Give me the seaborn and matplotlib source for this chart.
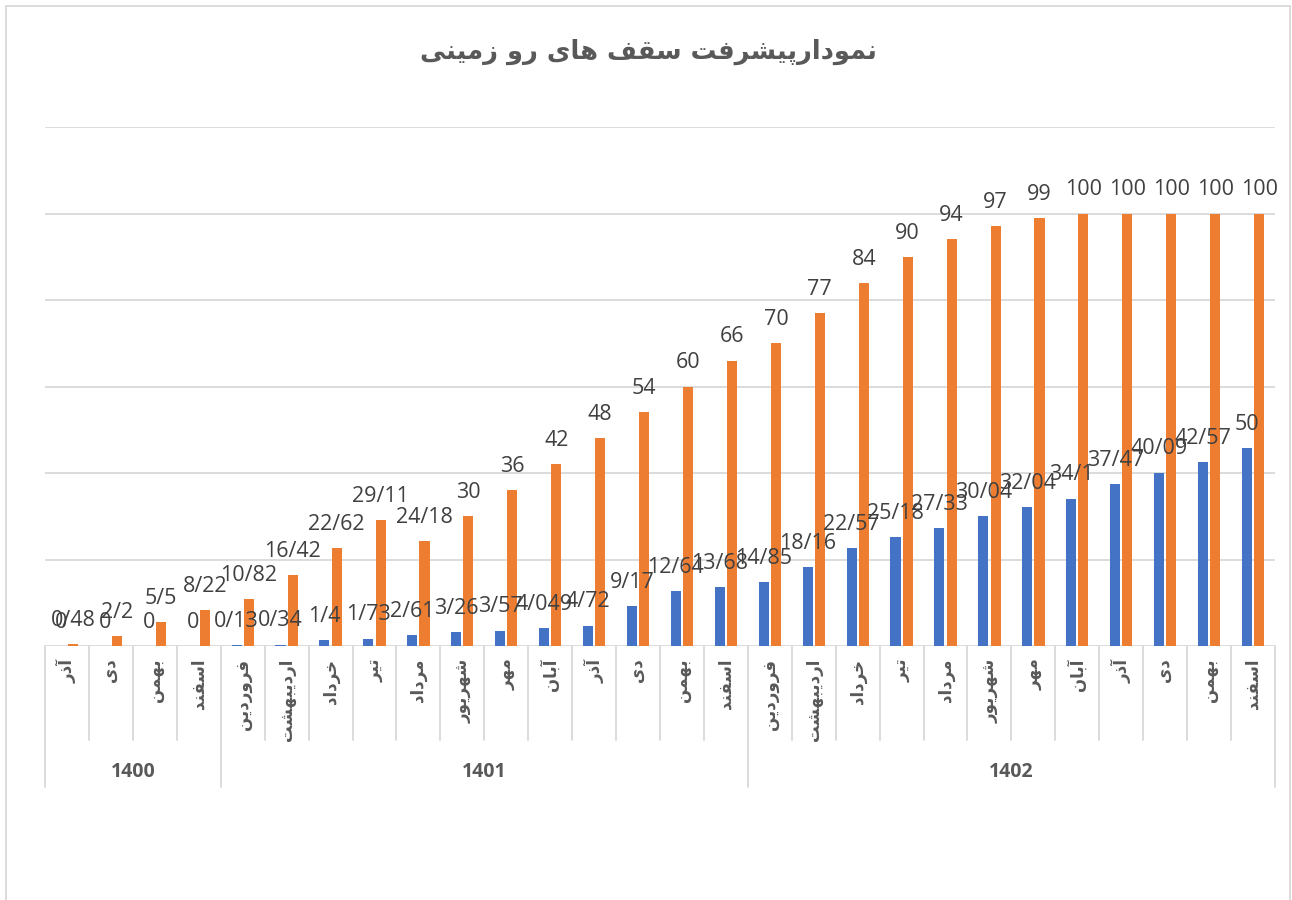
import numpy as np
import pandas as pd
import matplotlib
matplotlib.use("Agg")
import matplotlib.pyplot as plt
import matplotlib.transforms as mtransforms
from matplotlib.patches import Rectangle
import seaborn as sns

# --- data -------------------------------------------------------------
title = "نمودارپیشرفت سقف های رو زمینی"

months_1400 = ["آذر", "دی", "بهمن", "اسفند"]
months_year = ["فروردین", "اردیبهشت", "خرداد", "تیر", "مرداد", "شهریور",
               "مهر", "آبان", "آذر", "دی", "بهمن", "اسفند"]
months = months_1400 + months_year + months_year

years = ["1400", "1401", "1402"]
year_sizes = [4, 12, 12]

# orange series (plan) and blue series (actual), in percent
planned = [0.48, 2.2, 5.5, 8.22, 10.82, 16.42, 22.62, 29.11, 24.18, 30, 36, 42,
           48, 54, 60, 66, 70, 77, 84, 90, 94, 97, 99, 100, 100, 100, 100, 100]
actual = [0, 0, 0, 0, 0.13, 0.34, 1.4, 1.73, 2.61, 3.26, 3.57, 4.049,
          4.72, 9.17, 12.64, 13.68, 14.85, 18.16, 22.57, 25.18, 27.33, 30.04,
          32.04, 34.1, 37.47, 40.09, 42.57, 45.85]
# the last blue label in the source reads 50 although the bar is lower
actual_last_label = "50"

BLUE = "#4472C4"
ORANGE = "#ED7D31"
GRID = "#D9D9D9"

# --- minimal Persian shaping (matplotlib has no bidi / joining) -------
FORMS = {
    "آ": (0xFE81, 0xFE82, None, None),
    "ا": (0xFE8D, 0xFE8E, None, None),
    "ب": (0xFE8F, 0xFE90, 0xFE91, 0xFE92),
    "پ": (0xFB56, 0xFB57, 0xFB58, 0xFB59),
    "ت": (0xFE95, 0xFE96, 0xFE97, 0xFE98),
    "خ": (0xFEA5, 0xFEA6, 0xFEA7, 0xFEA8),
    "د": (0xFEA9, 0xFEAA, None, None),
    "ذ": (0xFEAB, 0xFEAC, None, None),
    "ر": (0xFEAD, 0xFEAE, None, None),
    "ز": (0xFEAF, 0xFEB0, None, None),
    "س": (0xFEB1, 0xFEB2, 0xFEB3, 0xFEB4),
    "ش": (0xFEB5, 0xFEB6, 0xFEB7, 0xFEB8),
    "ف": (0xFED1, 0xFED2, 0xFED3, 0xFED4),
    "ق": (0xFED5, 0xFED6, 0xFED7, 0xFED8),
    "م": (0xFEE1, 0xFEE2, 0xFEE3, 0xFEE4),
    "ن": (0xFEE5, 0xFEE6, 0xFEE7, 0xFEE8),
    "ه": (0xFEE9, 0xFEEA, 0xFEEB, 0xFEEC),
    "و": (0xFEED, 0xFEEE, None, None),
    "ی": (0xFBFC, 0xFBFD, 0xFBFE, 0xFBFF),
}


def shape(text):
    out = []
    for i, ch in enumerate(text):
        forms = FORMS.get(ch)
        if forms is None:
            out.append(ch)
            continue
        prev = text[i - 1] if i > 0 else ""
        nxt = text[i + 1] if i + 1 < len(text) else ""
        join_prev = prev in FORMS and FORMS[prev][2] is not None
        join_next = forms[2] is not None and nxt in FORMS
        if join_prev and join_next:
            code = forms[3]
        elif join_prev:
            code = forms[1]
        elif join_next:
            code = forms[2]
        else:
            code = forms[0]
        out.append(chr(code))
    return "".join(reversed(out))


def fmt(v):
    return f"{v:g}".replace(".", "/")


# --- frame ------------------------------------------------------------
n = len(months)
df = pd.DataFrame({
    "idx": list(range(n)) * 2,
    "value": actual + planned,
    "series": ["actual"] * n + ["planned"] * n,
})

sns.set_style("white")
plt.rcParams["font.family"] = ["Open Sans", "DejaVu Sans"]

W, H = 1292, 900
fig = plt.figure(figsize=(W / 100, H / 100), dpi=100)
ax = fig.add_axes([45 / W, 1 - 646 / H, (1275 - 45) / W, (646 - 127) / H])

sns.barplot(data=df, x="idx", y="value", hue="series",
            hue_order=["actual", "planned"], palette=[BLUE, ORANGE],
            saturation=1, width=0.556, gap=0.18, linewidth=0,
            legend=False, ax=ax)

ax.set_ylim(0, 120)
ax.set_xlim(-0.5, n - 0.5)
ax.set_yticks(np.arange(0, 121, 20))
ax.set_yticklabels([])
ax.tick_params(axis="y", length=0)
ax.grid(axis="y", color=GRID, linewidth=1.3)
ax.set_axisbelow(True)
for s in ax.spines.values():
    s.set_visible(False)
ax.set_xlabel("")
ax.set_ylabel("")

# data labels
blue_labels = [fmt(v) for v in actual]
blue_labels[-1] = actual_last_label
orange_labels = [fmt(v) for v in planned]
for cont, labels in zip(ax.containers, [blue_labels, orange_labels]):
    ax.bar_label(cont, labels=labels, padding=9.5, fontsize=15.5,
                 color="#404040")

# month tick labels (rotated)
ax.set_xticks(range(n))
ax.set_xticklabels([shape(m) for m in months], rotation=90,
                   fontsize=12, fontweight="bold", color="#595959",
                   family="DejaVu Sans")
ax.tick_params(axis="x", length=0, pad=9)

# multi-level category separators and year labels
trans = mtransforms.blended_transform_factory(ax.transData, ax.transAxes)
month_bottom = -(740 - 646) / (646 - 127)
year_bottom = -(787 - 646) / (646 - 127)
bounds = np.cumsum([0] + year_sizes)
for i in range(n + 1):
    y1 = year_bottom if i in bounds else month_bottom
    ax.plot([i - 0.5, i - 0.5], [0, y1], color=GRID, lw=1.3,
            transform=trans, clip_on=False)
for yr, b0, b1 in zip(years, bounds[:-1], bounds[1:]):
    ax.text((b0 + b1 - 1) / 2, -(772 - 646) / (646 - 127), yr,
            transform=trans, ha="center", va="center", fontsize=14,
            fontweight="bold", color="#595959")

fig.text(648 / W, 1 - 52 / H, shape(title), ha="center", va="center",
         fontsize=18.5, fontweight="bold", color="#595959",
         family="DejaVu Sans")

fig.patches.append(Rectangle((6 / W, -0.01), (1290 - 6) / W, 1 - 6 / H + 0.01,
                             transform=fig.transFigure, fill=False,
                             edgecolor=GRID, lw=1.3))

fig.savefig("out.png", dpi=100)
